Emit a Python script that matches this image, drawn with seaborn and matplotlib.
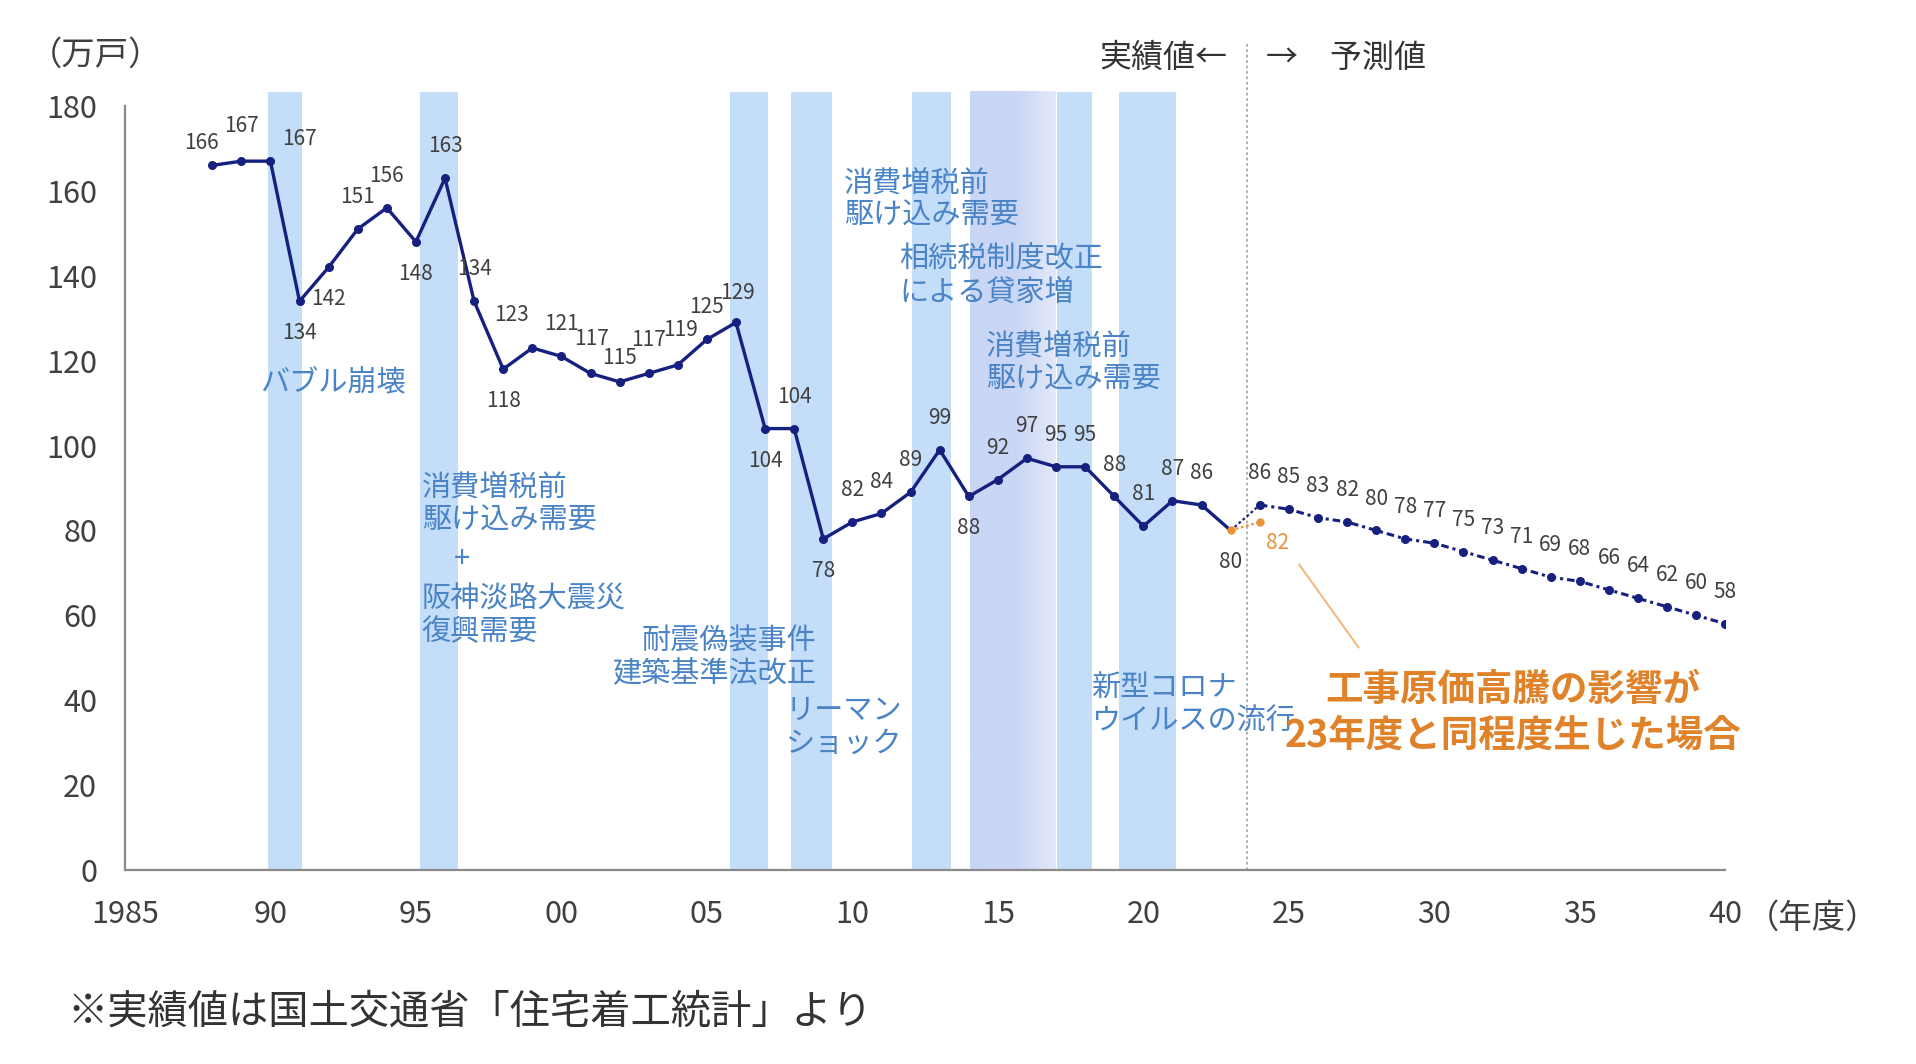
import numpy as np
import pandas as pd
import matplotlib
matplotlib.use("Agg")
import matplotlib.pyplot as plt
import seaborn as sns

# ---------------- data ----------------
actual_years = list(range(1988, 2024))
actual_values = [166, 167, 167, 134, 142, 151, 156, 148, 163, 134, 118, 123, 121, 117, 115,
                 117, 119, 125, 129, 104, 104, 78, 82, 84, 89, 99, 88, 92, 97, 95, 95, 88,
                 81, 87, 86, 80]
forecast_years = list(range(2024, 2041))
forecast_values = [86, 85, 83, 82, 80, 78, 77, 75, 73, 71, 69, 68, 66, 64, 62, 60, 58]
alt_years = [2023, 2024]
alt_values = [80, 82]

x_ticks = [1985, 1990, 1995, 2000, 2005, 2010, 2015, 2020, 2025, 2030, 2035, 2040]
x_ticklabels = ["1985", "90", "95", "00", "05", "10", "15", "20", "25", "30", "35", "40"]
y_ticks = [0, 20, 40, 60, 80, 100, 120, 140, 160, 180]

event_bands = [(1989.9, 1991.1), (1995.15, 1996.45), (2005.8, 2007.1), (2007.9, 2009.3),
               (2012.05, 2013.4), (2017.03, 2018.22), (2019.17, 2021.12)]
lavender_band = (2014.05, 2017.0)

# ---------------- style ----------------
sns.set_theme(style="white")
plt.rcParams['font.family'] = ['Noto Sans CJK JP', 'DejaVu Sans']

NAVY = "#16207f"
ORANGE = "#e8923a"
ORANGE_TXT = "#e0822a"
BLUE_TXT = "#4a84c6"
BAND = "#c4ddf8"
GRAY_TXT = "#404040"

fig = plt.figure(figsize=(19.16, 10.64), dpi=100)
ax = fig.add_axes([0.0652, 0.1823, 0.9005 - 0.0652, 0.9004 - 0.1823])

top_frac = 183.3 / 180
for x0, x1 in event_bands:
    ax.axvspan(x0, x1, ymin=0, ymax=top_frac, color=BAND, lw=0, zorder=0, clip_on=False)

# gradient lavender band
c1 = np.array([201, 214, 245]) / 255
c2 = np.array([228, 233, 249]) / 255
n = 100
t = np.linspace(0, 1, n)
w = np.clip((t - 0.55) / 0.45, 0, 1)
grad = (1 - w)[:, None] * c1 + w[:, None] * c2
img = grad[None, :, :]
ax.imshow(img, extent=[lavender_band[0], lavender_band[1], 0, 183.3], aspect='auto',
          zorder=0, clip_on=False, interpolation='bilinear')

# vertical divider
ax.plot([2023.55, 2023.55], [0, 195], ls=(0, (1.5, 1.5)), color="#aaaaaa", lw=1.3,
        clip_on=False, zorder=1)

# lines
df_a = pd.DataFrame({"year": actual_years, "value": actual_values})
df_f = pd.DataFrame({"year": forecast_years, "value": forecast_values})
df_alt = pd.DataFrame({"year": alt_years, "value": alt_values})
df_link = pd.DataFrame({"year": [actual_years[-1], forecast_years[0]],
                        "value": [actual_values[-1], forecast_values[0]]})

sns.lineplot(data=df_a.iloc[:-1], x="year", y="value", color=NAVY, lw=2.4, marker="o",
             markersize=6.5, markeredgewidth=0, ax=ax, zorder=4)
sns.lineplot(data=df_a.iloc[-2:], x="year", y="value", color=NAVY, lw=2.4, ax=ax, zorder=3)
sns.lineplot(data=df_link, x="year", y="value", color=NAVY, lw=1.6, ls=(0, (1.2, 1.2)),
             ax=ax, zorder=3)
sns.lineplot(data=df_alt, x="year", y="value", color=ORANGE, lw=1.6, ls=(0, (1.2, 1.2)),
             marker="o", markersize=6, markeredgewidth=0, ax=ax, zorder=3)
sns.lineplot(data=df_f, x="year", y="value", color=NAVY, lw=2.2, ls=(0, (2.5, 1.3, 1, 1.3)),
             marker="o", markersize=6.5, markeredgewidth=0, ax=ax, zorder=4)

# value labels
below = {1991, 1992, 1995, 1998, 2007, 2009, 2014, 2023}
special = {1988: (-8, 16), 1989: (0, 25), 1990: (21, 16), 1999: (-15, 24), 2006: (1, 21),
           2001: (1, 25), 2002: (0, 17), 2003: (0, 24), 2004: (2, 25)}
LBL = 15
for yr, v in zip(actual_years, actual_values):
    if yr in special:
        dx, dy = special[yr]
    elif yr in below:
        dx, dy = 0, -23
    else:
        dx, dy = 0, 23
    ax.annotate(str(v), (yr, v), xytext=(dx, dy), textcoords="offset points",
                ha="center", va="center", fontsize=LBL, color=GRAY_TXT, zorder=5)
for yr, v in zip(forecast_years, forecast_values):
    ax.annotate(str(v), (yr, v), xytext=(0, 23), textcoords="offset points",
                ha="center", va="center", fontsize=LBL, color=GRAY_TXT, zorder=5)
ax.annotate(str(alt_values[1]), (alt_years[1], alt_values[1]), xytext=(13, -15),
            textcoords="offset points", ha="center", va="center", fontsize=LBL,
            color=ORANGE, zorder=5)

# event annotations
tk = dict(color=BLUE_TXT, fontsize=21, zorder=5, linespacing=1.12)
ax.text(1989.65, 115, "バブル崩壊", ha="left", va="center", **tk)
ax.text(1995.2, 93.6, "消費増税前\n駆け込み需要", ha="left", va="top", **tk)
ax.text(1996.6, 73.2, "+", ha="center", va="center", **tk)
ax.text(1995.2, 67.3, "阪神淡路大震災\n復興需要", ha="left", va="top", **tk)
ax.text(2008.76, 57.3, "耐震偽装事件\n建築基準法改正", ha="right", va="top", **tk)
ax.text(2007.7, 41.0, "リーマン\nショック", ha="left", va="top", **tk)
ax.text(2009.7, 165.3, "消費増税前\n駆け込み需要", ha="left", va="top", **tk)
ax.text(2011.6, 147.3, "相続税制度改正\nによる貸家増", ha="left", va="top", **tk)
ax.text(2014.6, 126.8, "消費増税前\n駆け込み需要", ha="left", va="top", **tk)
ax.text(2018.2, 46.3, "新型コロナ\nウイルスの流行", ha="left", va="top", **tk)

ax.text(2032.7, 37.2, "工事原価高騰の影響が\n23年度と同程度生じた場合", ha="center", va="center",
        color=ORANGE_TXT, fontsize=27, fontweight="bold", linespacing=1.2, zorder=5)
ax.plot([2025.35, 2027.4], [72.0, 52.4], color="#f2b57a", lw=1.4, zorder=2)

ax.text(2022.9, 191.4, "実績値←", ha="right", va="center", fontsize=23, color="#333333",
        clip_on=False)
ax.text(2024.2, 191.4, "→　予測値", ha="left", va="center", fontsize=23, color="#333333",
        clip_on=False)

# axes styling
ax.set_xlim(1985, 2040)
ax.set_ylim(0, 180)
ax.set_xticks(x_ticks)
ax.set_xticklabels(x_ticklabels)
ax.set_yticks(y_ticks)
ax.set_xlabel("")
ax.set_ylabel("")
ax.grid(False)
for s in ["top", "right"]:
    ax.spines[s].set_visible(False)
for s in ["left", "bottom"]:
    ax.spines[s].set_color("#8a8a8a")
    ax.spines[s].set_linewidth(1.6)
ax.tick_params(axis="both", which="major", direction="out", length=7, width=1.4,
               color="#8a8a8a", labelsize=22, labelcolor=GRAY_TXT)
ax.tick_params(axis="y", pad=13)
ax.tick_params(axis="x", pad=14)
ax.set_facecolor("white")

fig.text(96 / 1916, 1 - 55 / 1064, "（万戸）", ha="center", va="center", fontsize=24,
         color=GRAY_TXT)
fig.text(1746 / 1916, 1 - 918 / 1064, "（年度）", ha="left", va="center", fontsize=24,
         color=GRAY_TXT)
fig.text(67 / 1916, 1 - 1012 / 1064, "※実績値は国土交通省「住宅着工統計」より", ha="left",
         va="center", fontsize=29, color="#333333")

fig.savefig("out.png", dpi=100, facecolor="white")
